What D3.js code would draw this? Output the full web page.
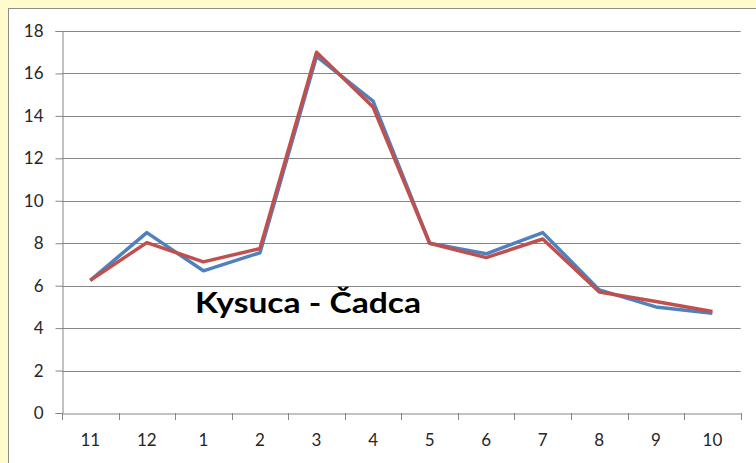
<!DOCTYPE html>
<html>
<head>
<meta charset="utf-8">
<script src="https://cdn.jsdelivr.net/npm/d3@7"></script>
<style>
  html, body { margin: 0; padding: 0; background: #fffbcc; }
  svg { display: block; }
</style>
</head>
<body>
<svg id="chart" width="756" height="463"></svg>
<script>
const months = ["11", "12", "1", "2", "3", "4", "5", "6", "7", "8", "9", "10"];
const seriesBlue = [6.25, 8.5, 6.7, 7.55, 16.8, 14.7, 8.0, 7.5, 8.5, 5.8, 5.0, 4.7];
const seriesRed  = [6.25, 8.03, 7.12, 7.75, 17.0, 14.42, 8.0, 7.32, 8.2, 5.7, 5.25, 4.78];
const yTicks = [0, 2, 4, 6, 8, 10, 12, 14, 16, 18];
const titleText = "Kysuca - Čadca";

(function () {
const svg = d3.select("#chart");
const W = 756, H = 463;

// white chart panel
svg.append("rect").attr("x", 8.5).attr("y", 8.5).attr("width", W).attr("height", H)
  .attr("fill", "#ffffff").attr("stroke", "#8c8c8c").attr("stroke-width", 1);

const mLeft = 62, mRight = 740.7, mTop = 31, mBottom = 413;
const x = d3.scaleBand().domain(months).range([mLeft, mRight]);
const y = d3.scaleLinear().domain([0, 18]).range([mBottom, mTop]);

// gridlines
svg.append("g").selectAll("line").data(yTicks.filter(d => d > 0)).join("line")
  .attr("x1", mLeft).attr("x2", mRight)
  .attr("y1", d => Math.round(y(d)) + 0.5).attr("y2", d => Math.round(y(d)) + 0.5)
  .attr("stroke", "#868686").attr("stroke-width", 1);

// Y axis
const yAxis = svg.append("g").attr("transform", `translate(${mLeft + 0.5},0)`)
  .call(d3.axisLeft(y).tickValues(yTicks).tickSize(7).tickPadding(12));
yAxis.select(".domain").attr("stroke", "#868686");
yAxis.selectAll(".tick line").attr("stroke", "#868686");
yAxis.selectAll(".tick text").attr("font-family", "Lato, 'Open Sans', sans-serif")
  .attr("font-size", 17).attr("fill", "#262626");

// X axis
const xAxis = svg.append("g").attr("transform", `translate(0,${mBottom + 0.5})`)
  .call(d3.axisBottom(x).tickSize(0).tickPadding(20));
xAxis.select(".domain").attr("stroke", "#868686");
xAxis.selectAll(".tick text").attr("font-family", "Lato, 'Open Sans', sans-serif")
  .attr("font-size", 17).attr("fill", "#262626");
// tick marks at band boundaries
const bounds = months.map(m => x(m)).concat([mRight]);
svg.append("g").selectAll("line").data(bounds).join("line")
  .attr("x1", d => Math.round(d) + 0.5).attr("x2", d => Math.round(d) + 0.5)
  .attr("y1", mBottom).attr("y2", mBottom + 7)
  .attr("stroke", "#868686").attr("stroke-width", 1);

const line = d3.line()
  .x((d, i) => x(months[i]) + x.bandwidth() / 2)
  .y(d => y(d));

svg.append("path").datum(seriesBlue).attr("d", line)
  .attr("fill", "none").attr("stroke", "#4f81bd").attr("stroke-width", 3.5)
  .attr("stroke-linejoin", "round");
svg.append("path").datum(seriesRed).attr("d", line)
  .attr("fill", "none").attr("stroke", "#c0504d").attr("stroke-width", 3.5)
  .attr("stroke-linejoin", "round");

// title label inside plot
svg.append("text").attr("x", 195).attr("y", 313)
  .attr("font-family", "Lato, 'Open Sans', sans-serif").attr("font-weight", "bold")
  .attr("font-size", 28).attr("fill", "#000")
  .attr("textLength", 226).attr("lengthAdjust", "spacingAndGlyphs")
  .text(titleText);
})();
</script>
</body>
</html>
